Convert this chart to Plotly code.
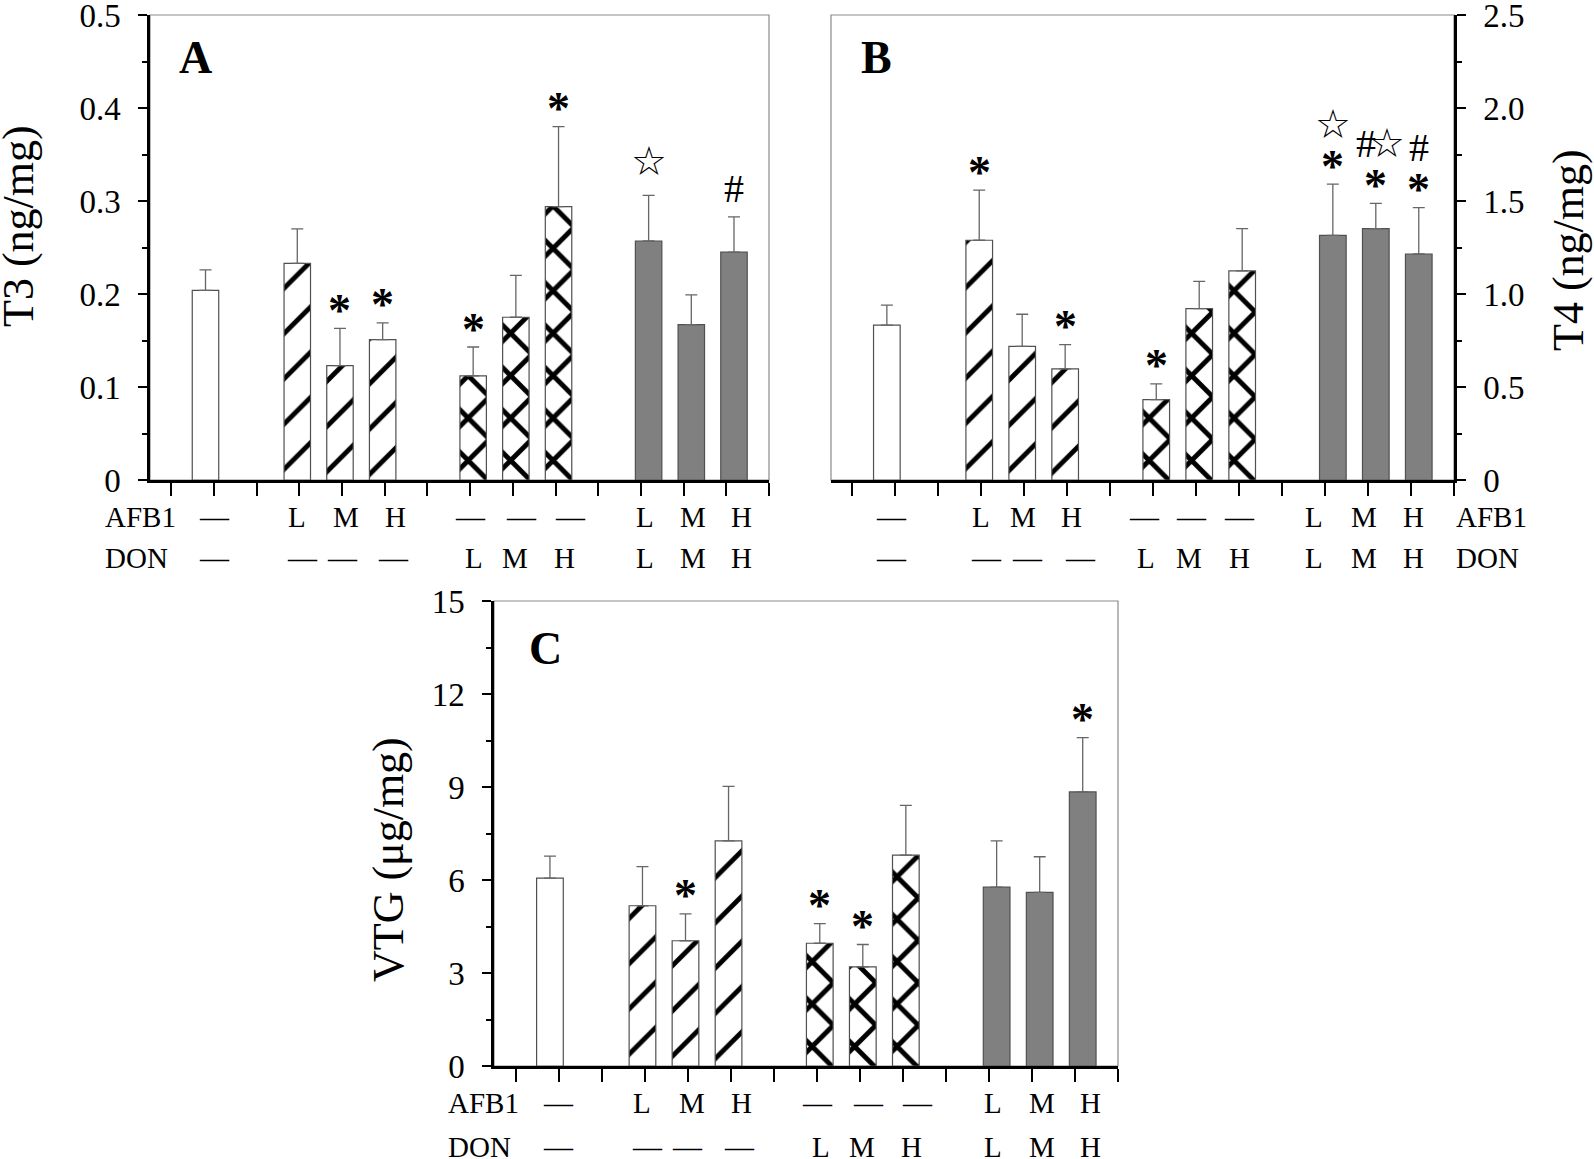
import plotly.graph_objects as go

W, H = 1594, 1159

# ---------------- data ----------------
afb_levels = ["—", "L", "M", "H", "—", "—", "—", "L", "M", "H"]
don_levels = ["—", "—", "—", "—", "L", "M", "H", "L", "M", "H"]
bar_group = [0, 1, 1, 1, 2, 2, 2, 3, 3, 3]   # control, AFB1, DON, AFB1+DON

t3_mean = [0.204, 0.233, 0.123, 0.151, 0.112, 0.175, 0.294, 0.257, 0.167, 0.245]
t3_err = [0.022, 0.037, 0.040, 0.018, 0.031, 0.045, 0.086, 0.049, 0.032, 0.038]
t4_mean = [0.833, 1.289, 0.718, 0.597, 0.432, 0.921, 1.124, 1.315, 1.352, 1.215]
t4_err = [0.107, 0.270, 0.173, 0.131, 0.085, 0.147, 0.227, 0.276, 0.135, 0.249]
vtg_mean = [6.06, 5.17, 4.04, 7.26, 3.96, 3.20, 6.80, 5.77, 5.60, 8.84]
vtg_err = [0.71, 1.26, 0.87, 1.76, 0.63, 0.72, 1.61, 1.49, 1.15, 1.75]

# significance marks: (bar index, symbol, stack level)
t3_marks = [(2, "*", 0), (3, "*", 0), (4, "*", 0), (6, "*", 0), (7, "☆", 0), (9, "#", 0)]
t4_marks = [(1, "*", 0), (3, "*", 0), (4, "*", 0), (7, "*", 0), (7, "☆", 1),
            (8, "*", 0), (8, "#", 1), (8, "☆", 1), (9, "*", 0), (9, "#", 1)]
vtg_marks = [(2, "*", 0), (4, "*", 0), (5, "*", 0), (9, "*", 0)]

t3_ticks = [0, 0.1, 0.2, 0.3, 0.4, 0.5]
t3_ticktext = ["0", "0.1", "0.2", "0.3", "0.4", "0.5"]
t4_ticks = [0, 0.5, 1.0, 1.5, 2.0, 2.5]
t4_ticktext = ["0", "0.5", "1.0", "1.5", "2.0", "2.5"]
vtg_ticks = [0, 3, 6, 9, 12, 15]
vtg_ticktext = ["0", "3", "6", "9", "12", "15"]

# ---------------- layout constants ----------------
group_origin = [0.8, 2.95, 7.07, 11.18]
member_idx = [0, 0, 1, 2, 0, 1, 2, 0, 1, 2]
bar_x = [group_origin[g] + j for g, j in zip(bar_group, member_idx)]
BAR_W = 0.62

lab_afb_AC = [1.0, 2.95, 4.1, 5.26, 7.01, 8.2, 9.34, 11.1, 12.23, 13.35]
lab_don_AC = [1.0, 3.07, 4.0, 5.2, 7.1, 8.06, 9.2, 11.1, 12.23, 13.35]
lab_afb_B = [0.9, 3.0, 3.96, 5.1, 6.8, 7.9, 9.0, 10.75, 11.9, 13.06]
lab_don_B = [0.9, 3.13, 4.08, 5.3, 6.84, 7.84, 9.0, 10.75, 11.9, 13.06]

SERIF = "Liberation Serif, Times New Roman, serif"
SYMF = "Liberation Serif, DejaVu Sans, serif"


def px_x(p):
    return p / W


def px_y(p):
    return (H - p) / H


panels = [
    dict(ax="", dom_x=(150, 769), dom_y=(15, 480), mean=t3_mean, err=t3_err, marks=t3_marks,
         rng=[0, 0.5], ticks=t3_ticks, ticktext=t3_ticktext, minor=0.05, side="left",
         title="T3 (ng/mg)", title_px=(18, 226), letter="A", letter_px=(195, 57),
         lab_afb=lab_afb_AC, lab_don=lab_don_AC, rows_py=(517, 558),
         rowlab=dict(x=103, anchor="left"), xext=True),
    dict(ax="2", dom_x=(831, 1454), dom_y=(15, 480), mean=t4_mean, err=t4_err, marks=t4_marks,
         rng=[0, 2.5], ticks=t4_ticks, ticktext=t4_ticktext, minor=0.25, side="right",
         title="T4 (ng/mg)", title_px=(1568, 250), letter="B", letter_px=(877, 57),
         lab_afb=lab_afb_B, lab_don=lab_don_B, rows_py=(517, 558),
         rowlab=dict(x=1454, anchor="left"), xext=False),
    dict(ax="3", dom_x=(494, 1118), dom_y=(601, 1066), mean=vtg_mean, err=vtg_err, marks=vtg_marks,
         rng=[0, 15], ticks=vtg_ticks, ticktext=vtg_ticktext, minor=1.5, side="left",
         title="VTG (μg/mg)", title_px=(388, 860), letter="C", letter_px=(545, 648),
         lab_afb=lab_afb_AC, lab_don=lab_don_AC, rows_py=(1103, 1147),
         rowlab=dict(x=446, anchor="left"), xext=True),
]

styles = [
    dict(marker_color="white"),
    dict(marker_color="white",
         marker_pattern=dict(shape="/", fgcolor="black", fgopacity=1, bgcolor="white",
                             size=32, solidity=0.15, fillmode="replace")),
    dict(marker_color="white",
         marker_pattern=dict(shape="x", fgcolor="black", fgopacity=1, bgcolor="white",
                             size=30, solidity=0.3, fillmode="replace")),
    dict(marker_color="#808080"),
]

fig = go.Figure()
annotations = []
shapes = []
layout = {}

for p in panels:
    ax = p["ax"]
    xa, ya = "x" + ax, "y" + ax
    for g in range(4):
        idx = [i for i in range(10) if bar_group[i] == g]
        fig.add_trace(go.Bar(
            x=[bar_x[i] for i in idx], y=[p["mean"][i] for i in idx],
            width=BAR_W, xaxis=xa, yaxis=ya, showlegend=False,
            marker_line_color="#505050", marker_line_width=1.2,
            error_y=dict(type="data", symmetric=False,
                         array=[p["err"][i] for i in idx],
                         arrayminus=[0 for _ in idx],
                         color="#666666", thickness=1.3, width=6),
            **styles[g]))

    layout["xaxis" + ax] = dict(
        domain=[px_x(p["dom_x"][0]), px_x(p["dom_x"][1])],
        anchor=ya, range=[-0.5, 14], tickmode="linear", tick0=0, dtick=1,
        ticks="outside", ticklen=13, tickwidth=2, tickcolor="black",
        showticklabels=False, showline=True, linewidth=2.5, linecolor="black",
        showgrid=False, zeroline=False, fixedrange=True, automargin=False)
    layout["yaxis" + ax] = dict(
        domain=[px_y(p["dom_y"][1]), px_y(p["dom_y"][0])],
        anchor=xa, side=p["side"], range=p["rng"],
        tickmode="array", tickvals=p["ticks"], ticktext=p["ticktext"],
        ticks="outside", ticklen=9, tickwidth=2, tickcolor="black",
        minor=dict(ticks="outside", ticklen=5, tickwidth=2, tickcolor="black",
                   tick0=0, dtick=p["minor"]),
        tickfont=dict(family=SERIF, size=33, color="black"), ticklabelstandoff=11,
        ticklabeloverflow="allow",
        showline=True, linewidth=2.5, linecolor="black",
        showgrid=False, zeroline=False, fixedrange=True, automargin=False)

    # thin frame
    shapes.append(dict(type="rect", xref=xa + " domain", yref=ya + " domain",
                       x0=0, x1=1, y0=0, y1=1, layer="below",
                       line=dict(color="#8a8a8a", width=1.2)))
    # x-axis line extending slightly left of the y-axis
    if p["xext"]:
        shapes.append(dict(type="line", xref=xa, yref=ya, x0=-0.78, x1=-0.5, y0=0, y1=0,
                           line=dict(color="black", width=2.5)))

    # axis title
    annotations.append(dict(text=p["title"], xref="paper", yref="paper",
                            x=px_x(p["title_px"][0]), y=px_y(p["title_px"][1]),
                            xanchor="center", yanchor="middle", textangle=-90, showarrow=False,
                            font=dict(family=SERIF, size=44, color="black")))
    # panel letter
    annotations.append(dict(text="<b>%s</b>" % p["letter"], xref="paper", yref="paper",
                            x=px_x(p["letter_px"][0]), y=px_y(p["letter_px"][1]),
                            xanchor="center", yanchor="middle", showarrow=False,
                            font=dict(family=SERIF, size=46, color="black")))
    # treatment rows
    for row, (levels, pos, py, name) in enumerate([
            (afb_levels, p["lab_afb"], p["rows_py"][0], "AFB1"),
            (don_levels, p["lab_don"], p["rows_py"][1], "DON")]):
        for lv, xp in zip(levels, pos):
            annotations.append(dict(text=lv, xref=xa, yref="paper", x=xp, y=px_y(py),
                                    xanchor="center", yanchor="middle", showarrow=False,
                                    font=dict(family=SERIF, size=29, color="black")))
        annotations.append(dict(text=name, xref="paper", yref="paper",
                                x=px_x(p["rowlab"]["x"]), y=px_y(py),
                                xanchor=p["rowlab"]["anchor"], yanchor="middle", showarrow=False,
                                font=dict(family=SERIF, size=29, color="black")))
    # significance marks
    for i, sym, lvl in p["marks"]:
        top = p["mean"][i] + p["err"][i]
        xs = 0
        if sym == "*":
            txt, size, ysh = "<b>*</b>", 46, 18
        elif sym == "#":
            txt, size, ysh = "#", 40, 28
        else:
            txt, size, ysh = "☆", 40, 34
        if lvl == 1:
            ysh = 60
        same = [m for m in p["marks"] if m[0] == i and m[2] == lvl]
        if len(same) == 2:
            xs = -10 if sym == "#" else 11
        annotations.append(dict(text=txt, xref=xa, yref=ya, x=bar_x[i], y=top,
                                xanchor="center", yanchor="middle", yshift=ysh, xshift=xs,
                                showarrow=False,
                                font=dict(family=SYMF, size=size, color="black")))

fig.update_layout(
    width=W, height=H, margin=dict(l=0, r=0, t=0, b=0, autoexpand=False),
    paper_bgcolor="white", plot_bgcolor="white",
    barmode="overlay", showlegend=False,
    annotations=annotations, shapes=shapes, **layout)

fig.write_html("out.html", post_script="document.body.style.margin='0';",
               config={"displayModeBar": False})
